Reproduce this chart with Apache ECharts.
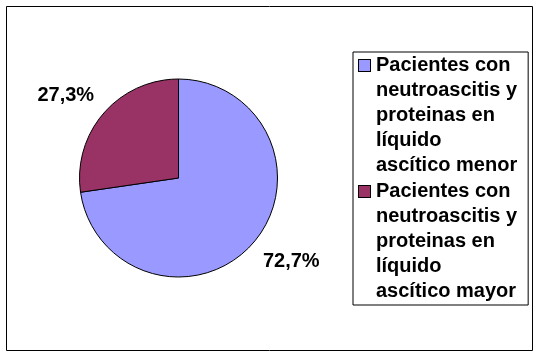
<!DOCTYPE html>
<html>
<head>
<meta charset="utf-8">
<script src="https://cdn.jsdelivr.net/npm/echarts@6/dist/echarts.min.js"></script>
<style>
  html, body { margin: 0; padding: 0; background: #fff; }
  #chart { width: 539px; height: 357px; }
</style>
</head>
<body>
<div id="chart"></div>
<script>
// legend names, broken where the original legend wraps them
const categories = [
  'Pacientes con\nneutroascitis y\nproteinas en\nlíquido\nascítico menor',
  'Pacientes con\nneutroascitis y\nproteinas en\nlíquido\nascítico mayor'
]
const percentages = [72.7, 27.3]
const sliceColors = ['#9999ff', '#993366']

const font = '"Liberation Sans", Arial, sans-serif'
const chart = echarts.init(document.getElementById('chart'), null, { renderer: 'canvas' })

const pieData = categories.map((name, i) => ({ name, value: percentages[i] }))

// rich markers for the legend so the swatch sits on the first line
const rich = { g: { width: 6 }, g2: { width: 17 } }
sliceColors.forEach((c, i) => {
  rich['m' + i] = { width: 11, height: 11, backgroundColor: c, borderColor: '#000', borderWidth: 1 }
})

function legendText (name) {
  const i = categories.indexOf(name)
  return name.split('\n').map((l, k) => (k === 0 ? '{m' + i + '|}{g|}' : '{g2|}') + l).join('\n')
}

const option = {
  animation: false,
  color: sliceColors,
  graphic: [{
    type: 'rect',
    shape: { x: 6.5, y: 6.5, width: 526, height: 344 },
    style: { fill: 'none', stroke: '#000', lineWidth: 1 },
    silent: true
  }],
  legend: {
    orient: 'vertical',
    left: 353,
    top: 52,
    itemGap: 1,
    icon: 'none',
    itemWidth: 0,
    itemHeight: 0,
    padding: [1, 11, 1, 1],
    borderColor: '#000',
    borderWidth: 1,
    selectedMode: false,
    formatter: legendText,
    textStyle: {
      fontFamily: font,
      fontSize: 20,
      fontWeight: 'bold',
      color: '#000',
      lineHeight: 25,
      rich
    }
  },
  series: [
    {
      type: 'pie',
      center: [178.5, 178],
      radius: 99,
      startAngle: 90,
      clockwise: true,
      silent: true,
      itemStyle: { borderColor: '#000', borderWidth: 1 },
      label: { show: false },
      labelLine: { show: false },
      emphasis: { disabled: true },
      data: pieData
    },
    {
      // transparent twin pie, only carries the percentage labels
      type: 'pie',
      center: [178.5, 178],
      radius: 274,
      startAngle: 94.5,
      clockwise: true,
      silent: true,
      itemStyle: { color: 'rgba(0,0,0,0)', borderWidth: 0 },
      label: {
        show: true,
        position: 'inside',
        fontFamily: font,
        fontSize: 20,
        fontWeight: 'bold',
        color: '#000',
        formatter: p => p.value.toFixed(1).replace('.', ',') + '%'
      },
      labelLine: { show: false },
      emphasis: { disabled: true },
      data: pieData
    }
  ]
}

chart.setOption(option)
</script>
</body>
</html>
